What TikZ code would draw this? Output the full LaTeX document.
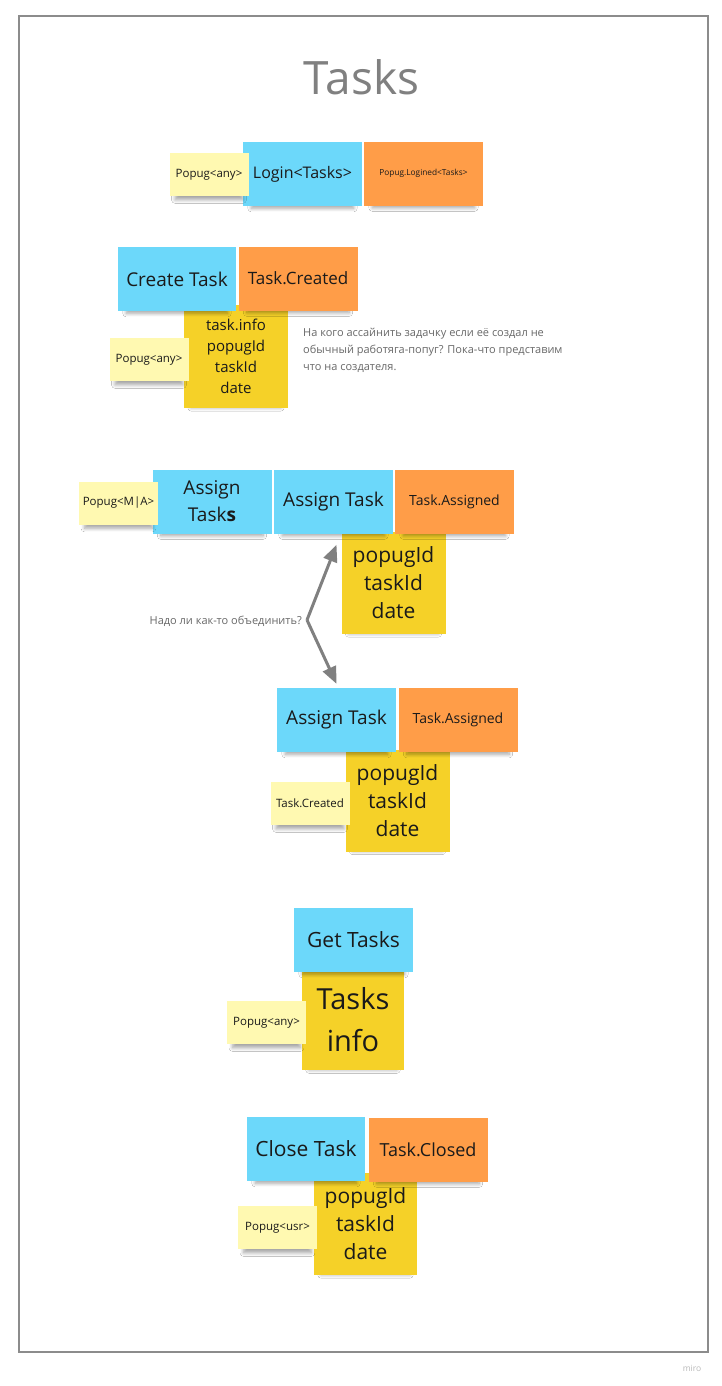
\documentclass[tikz,border=0pt]{standalone}
\usepackage{fontspec}
\setmainfont{Open Sans}
\usepackage{tikz}
\usepackage{xcolor}
\usetikzlibrary{shadows.blur,arrows.meta}
\definecolor{cmdblue}{HTML}{6CD8FA}
\definecolor{evorange}{HTML}{FF9D48}
\definecolor{datayellow}{HTML}{F5D128}
\definecolor{actoryellow}{HTML}{FFF9B1}
\definecolor{inkgray}{HTML}{1A1A1A}
\definecolor{notegray}{HTML}{686868}
\definecolor{framegray}{HTML}{8C8C8C}
\definecolor{arrowgray}{HTML}{808080}

\begin{document}
\begin{tikzpicture}[x=1pt,y=-1pt]
\tikzstyle{every node}+=[inner sep=0pt]
\tikzstyle{sticky}=[rectangle,align=center,text=inkgray,blur shadow={shadow xshift=0pt,shadow yshift=-8pt,shadow scale=0.86,shadow blur radius=4pt,shadow blur steps=8,shadow opacity=35}]
\tikzstyle{command}=[sticky,fill=cmdblue,minimum width=119pt,minimum height=64pt,font=\fontsize{19}{27}\selectfont]
\tikzstyle{event}=[sticky,fill=evorange,minimum width=119pt,minimum height=64pt,font=\fontsize{17}{24}\selectfont]
\tikzstyle{data}=[sticky,fill=datayellow,minimum width=104pt,minimum height=102pt,font=\fontsize{21}{28}\selectfont]
\tikzstyle{actor}=[sticky,fill=actoryellow,minimum width=79pt,minimum height=43pt,font=\fontsize{11.5}{14}\selectfont]
\tikzstyle{note}=[text=notegray,align=left,font=\fontsize{11}{17}\selectfont]
\tikzstyle{mergearrow}=[draw=arrowgray,line width=3pt,line join=round,-{Triangle[width=14pt,length=17pt]}]
\useasboundingbox (0,0) rectangle (721,1386);
\fill [white] (0,0) rectangle (721,1386);
\draw [framegray,line width=1.5pt] (19,16) rectangle (708,1352);
\node [text=arrowgray,font=\fontsize{46}{54}\selectfont] (title) at (361.5,77) {Tasks};
\node [command,font=\fontsize{16}{22}\selectfont] (login) at (302.5,174) {Login<Tasks>};
\node [event,font=\fontsize{8.3}{10}\selectfont] (logined) at (423.5,173.5) {Popug.Logined<Tasks>};
\node [actor] (loginActor) at (209,174.5) {Popug<any>};
\node [data,minimum height=103pt,font=\fontsize{15}{21}\selectfont] (createData) at (236,356.5) {task.info\\popugId\\taskId\\date};
\node [command,minimum width=118pt] (create) at (177,279) {Create Task};
\node [event] (created) at (298,278.5) {Task.Created};
\node [actor] (createActor) at (149,359.5) {Popug<any>};
\node [note,anchor=north west] (createNote) at (303,328) {На кого ассайнить задачку если её создал не\\обычный работяга-попуг? Пока-что представим\\что на создателя.};
\node [data] (assignDataA) at (393.5,583) {popugId\\taskId\\date};
\node [command] (assignAll) at (212,501.5) {Assign\\Task\textbf{s}};
\node [command] (assignA) at (333.5,501.5) {Assign Task};
\node [event,font=\fontsize{14}{20}\selectfont] (assignedA) at (454.5,501.5) {Task.Assigned};
\node [actor] (assignActor) at (118.5,503) {Popug<M|A>};
\node [data] (assignDataB) at (397.5,800.5) {popugId\\taskId\\date};
\node [command] (assignB) at (336.5,720) {Assign Task};
\node [event,font=\fontsize{14}{20}\selectfont] (assignedB) at (458,720) {Task.Assigned};
\node [actor] (assignTrigger) at (310,803.5) {Task.Created};
\node [note,anchor=east] (mergeNote) at (302,621) {Надо ли как-то объединить?};
\coordinate (fork) at (307,620);
\draw [mergearrow] (fork) -- ([xshift=3pt,yshift=-11pt]assignA.south);
\draw [mergearrow] (fork) -- ([yshift=4pt]assignB.north);
\node [data,minimum width=102pt,minimum height=100pt,font=\fontsize{29}{42}\selectfont] (getData) at (353,1020) {Tasks\\info};
\node [command,font=\fontsize{21}{27}\selectfont] (get) at (353.5,940) {Get Tasks};
\node [actor] (getActor) at (266.5,1022.5) {Popug<any>};
\node [data,minimum width=103pt] (closeData) at (365.5,1224) {popugId\\taskId\\date};
\node [command,minimum width=118pt,font=\fontsize{21}{27}\selectfont] (close) at (306,1149) {Close Task};
\node [event,font=\fontsize{18}{24}\selectfont] (closed) at (428,1149.5) {Task.Closed};
\node [actor] (closeActor) at (277.5,1227.5) {Popug<usr>};
\node [text=gray!55,font=\fontsize{8.5}{10}\selectfont] (brand) at (692,1368) {miro};
\end{tikzpicture}
\end{document}
